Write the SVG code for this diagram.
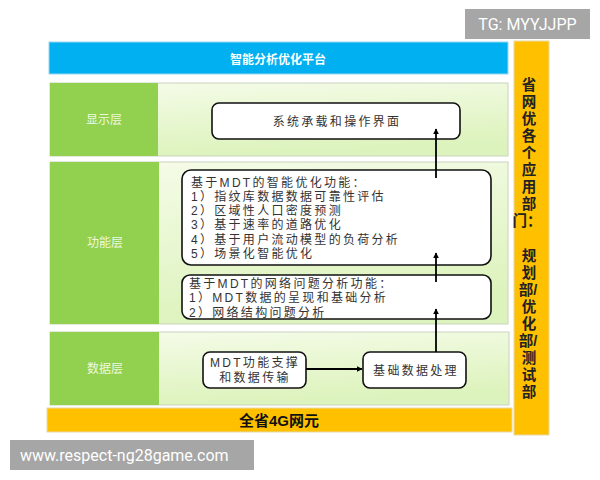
<svg xmlns="http://www.w3.org/2000/svg" width="600" height="480" viewBox="0 0 600 480">
<defs>
<linearGradient id="lg" x1="0" y1="0" x2="0.3" y2="1">
<stop offset="0" stop-color="#f6fcea"/>
<stop offset="1" stop-color="#ddf3bd"/>
</linearGradient>
<marker id="ah" viewBox="0 0 10 10" refX="9" refY="5" markerWidth="6" markerHeight="6" orient="auto" markerUnits="userSpaceOnUse">
<path d="M0,0 L10,5 L0,10 z" fill="#000"/>
</marker>
<style>
.layer{fill:url(#lg);stroke:#c9d3bf;stroke-width:1}
.lab{fill:#92d050}
.labt{font-family:"Liberation Sans","Noto Sans CJK SC",sans-serif;font-size:12px;fill:#eef8dd;text-anchor:middle}
.box{fill:#fff;stroke:#111;stroke-width:1.6}
.bt{font-family:"Liberation Sans","Noto Sans CJK SC",sans-serif;font-size:12px;fill:#333;letter-spacing:2.3px}
.ct{text-anchor:middle}
.conn{stroke:#000;stroke-width:1.8;fill:none;marker-end:url(#ah)}
.orange{fill:#ffc000;stroke:#e8d9a8;stroke-width:1}
.dep{font-family:"Liberation Sans","Noto Sans CJK SC",sans-serif;font-size:14.5px;font-weight:bold;fill:#222;text-anchor:middle}
.wm{fill:#a6a6a6}
.wmt{font-family:Roboto,"Liberation Sans",sans-serif;font-size:16px;fill:#fff}
</style>
</defs>
<rect width="600" height="480" fill="#fff"/>

<g id="watermark-top">
<rect class="wm" x="465" y="9" width="125" height="30"/>
<text class="wmt" x="527.5" y="30" text-anchor="middle">TG: MYYJJPP</text>
</g>

<g id="platform">
<rect x="49" y="42" width="459" height="32" fill="#00b0f0" stroke="#9ed6ee" stroke-width="1"/>
<text x="278" y="64" font-family="'Liberation Sans','Noto Sans CJK SC',sans-serif" font-size="12" font-weight="bold" fill="#fff" text-anchor="middle">智能分析优化平台</text>
</g>

<g id="departments">
<rect class="orange" x="514" y="41" width="35" height="394"/>
<text class="dep" x="529" y="90">省</text>
<text class="dep" x="529" y="107">网</text>
<text class="dep" x="529" y="124">优</text>
<text class="dep" x="529" y="141">各</text>
<text class="dep" x="529" y="158">个</text>
<text class="dep" x="529" y="175">应</text>
<text class="dep" x="529" y="192">用</text>
<text class="dep" x="529" y="209">部</text>
<text class="dep" x="527" y="226">门：</text>
<text class="dep" x="529" y="261">规</text>
<text class="dep" x="529" y="278">划</text>
<text class="dep" x="528" y="295">部/</text>
<text class="dep" x="529" y="312">优</text>
<text class="dep" x="529" y="329">化</text>
<text class="dep" x="528" y="346">部/</text>
<text class="dep" x="529" y="363">测</text>
<text class="dep" x="529" y="380">试</text>
<text class="dep" x="529" y="397">部</text>
</g>

<g id="display-layer">
<rect class="layer" x="50" y="83" width="458" height="73"/>
<rect class="lab" x="50" y="83" width="108" height="73"/>
<text class="labt" x="104" y="124">显示层</text>
</g>

<g id="function-layer">
<rect class="layer" x="50" y="162" width="458" height="162"/>
<rect class="lab" x="50" y="162" width="109" height="162"/>
<text class="labt" x="105" y="247">功能层</text>
</g>

<g id="data-layer">
<rect class="layer" x="50" y="332" width="459" height="73"/>
<rect class="lab" x="50" y="332" width="109" height="73"/>
<text class="labt" x="105" y="373">数据层</text>
</g>

<g id="base">
<rect class="orange" x="47" y="408" width="465" height="24"/>
<text x="279" y="426" font-family="'Liberation Sans','Noto Sans CJK SC',sans-serif" font-size="15" font-weight="bold" fill="#111" text-anchor="middle">全省4G网元</text>
</g>

<g id="ui-box">
<rect class="box" x="212" y="103" width="248" height="36" rx="7"/>
<text class="bt ct" x="337" y="126" letter-spacing="2">系统承载和操作界面</text>
</g>

<g id="smart-opt-box">
<rect class="box" x="182" y="170" width="309" height="95" rx="9"/>
<text class="bt" x="191" y="187">基于MDT的智能优化功能：</text>
<text class="bt" x="191" y="201">1）指纹库数据数据可靠性评估</text>
<text class="bt" x="191" y="215">2）区域性人口密度预测</text>
<text class="bt" x="191" y="229">3）基于速率的道路优化</text>
<text class="bt" x="191" y="244">4）基于用户流动模型的负荷分析</text>
<text class="bt" x="191" y="258">5）场景化智能优化</text>
</g>

<g id="net-analysis-box">
<rect class="box" x="182" y="275" width="309" height="44" rx="8"/>
<text class="bt" x="189" y="288">基于MDT的网络问题分析功能：</text>
<text class="bt" x="189" y="302">1）MDT数据的呈现和基础分析</text>
<text class="bt" x="189" y="317">2）网络结构问题分析</text>
</g>

<g id="mdt-support-box">
<rect class="box" x="203" y="352" width="103" height="36" rx="7"/>
<text class="bt ct" x="255" y="367" letter-spacing="1">MDT功能支撑</text>
<text class="bt ct" x="255" y="382" letter-spacing="1.5">和数据传输</text>
</g>

<g id="base-data-box">
<rect class="box" x="363" y="352" width="103" height="36" rx="7"/>
<text class="bt ct" x="416" y="375" letter-spacing="1.5">基础数据处理</text>
</g>

<g id="connectors">
<line class="conn" x1="306" y1="369" x2="362" y2="369"/>
<line class="conn" x1="436" y1="352" x2="436" y2="309"/>
<line class="conn" x1="436" y1="282" x2="436" y2="253"/>
<line class="conn" x1="436" y1="178" x2="436" y2="129"/>
</g>

<g id="watermark-bottom">
<rect class="wm" x="10" y="440" width="244" height="30"/>
<text class="wmt" x="20" y="461">www.respect-ng28game.com</text>
</g>
</svg>
